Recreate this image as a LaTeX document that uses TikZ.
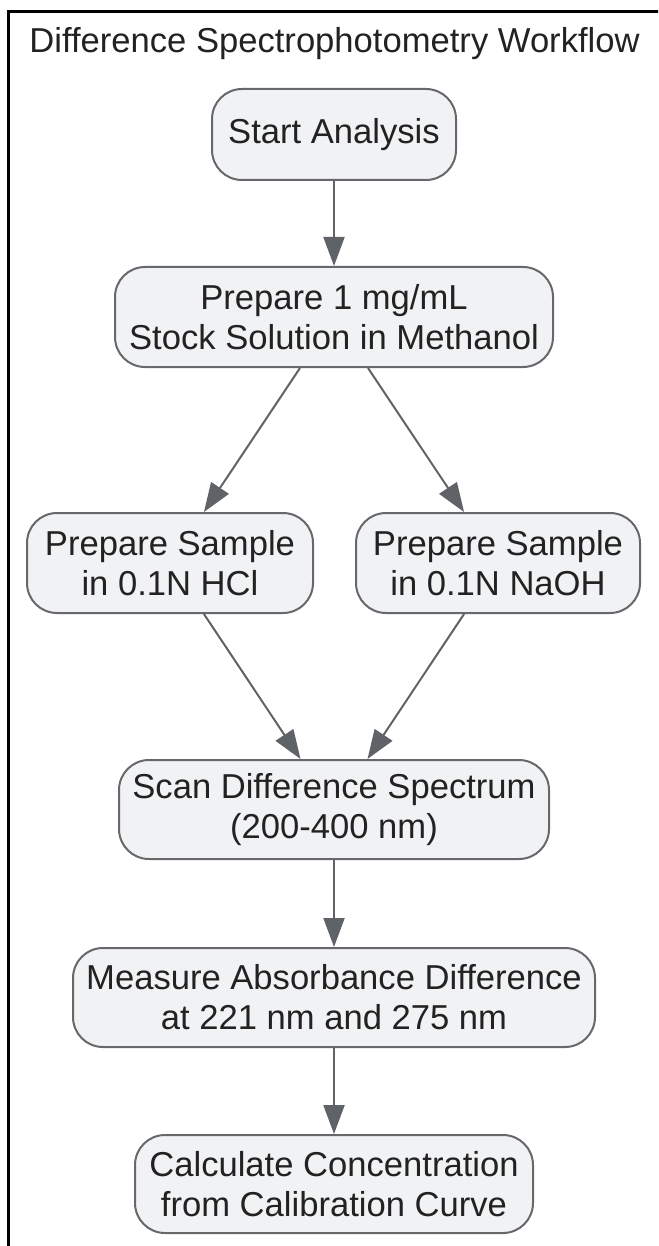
\documentclass[tikz,border=0pt]{standalone}
\usepackage{fontspec}
\setmainfont{Liberation Sans}
\usetikzlibrary{arrows.meta}
\definecolor{nodefill}{HTML}{F1F2F4}
\definecolor{nodedraw}{HTML}{66686C}
\definecolor{edgecol}{HTML}{5F6368}
\definecolor{txt}{HTML}{222222}
\tikzset{
  stepbox/.style={draw=nodedraw, line width=2pt, fill=nodefill, rounded corners=30pt,
    inner sep=0pt, align=center, text=txt, font=\fontsize{34.6}{40}\selectfont},
  flow/.style={draw=edgecol, line width=2pt, -{Triangle[length=29pt,width=21pt]}}
}
\begin{document}
\begin{tikzpicture}[x=1pt,y=-1pt]
\useasboundingbox (0,0) rectangle (658,1246);
\begin{scope}
\clip (0,0) rectangle (658,1246);
\draw[line width=2.7pt, black] (8.7,1300) -- (8.7,11.2) -- (700,11.2);
\end{scope}
\node[anchor=base, text=txt, font=\fontsize{34.6}{40}\selectfont] (title) at (334.5,53) {Difference Spectrophotometry Workflow};
\node[stepbox, minimum width=244pt, minimum height=91pt] (start) at (334,134.5) {Start Analysis};
\node[stepbox, minimum width=438pt, minimum height=100pt] (stock) at (334,317) {Prepare 1 mg/mL\\Stock Solution in Methanol};
\node[stepbox, minimum width=286pt, minimum height=100pt] (hcl) at (170,563) {Prepare Sample\\in 0.1N HCl};
\node[stepbox, minimum width=284pt, minimum height=100pt] (naoh) at (498,563) {Prepare Sample\\in 0.1N NaOH};
\node[stepbox, minimum width=430pt, minimum height=99pt] (scan) at (334,809.5) {Scan Difference Spectrum\\(200-400 nm)};
\node[stepbox, minimum width=522pt, minimum height=99pt] (measure) at (334,997.5) {Measure Absorbance Difference\\at 221 nm and 275 nm};
\node[stepbox, minimum width=398pt, minimum height=98pt] (calc) at (334,1184) {Calculate Concentration\\from Calibration Curve};
\draw[flow] (start) -- (stock);
\draw[flow] (stock) -- (hcl);
\draw[flow] (stock) -- (naoh);
\draw[flow] (hcl) -- (scan);
\draw[flow] (naoh) -- (scan);
\draw[flow] (scan) -- (measure);
\draw[flow] (measure) -- (calc);
\end{tikzpicture}
\end{document}
